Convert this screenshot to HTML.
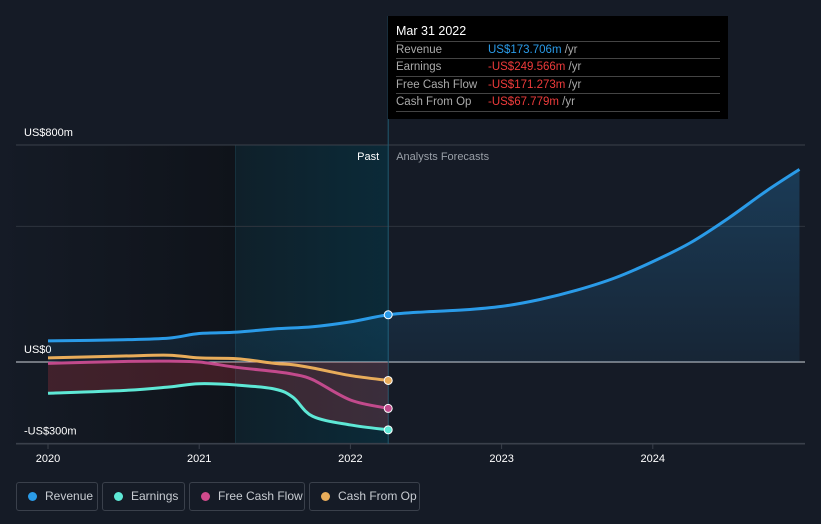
<!DOCTYPE html>
<html><head><meta charset="utf-8"><style>
body{margin:0;background:#151b26;font-family:"Liberation Sans",sans-serif;}
#wrap{position:relative;width:821px;height:524px;overflow:hidden;background:#151b26}
.leg{position:absolute;top:482px;height:29px;border:1px solid #3a404b;border-radius:3px;color:#c8ccd2;font-size:12px;line-height:27px;box-sizing:border-box;padding-left:28px;white-space:nowrap}
.leg i{position:absolute;left:11px;top:9px;width:9px;height:9px;border-radius:50%}
#tip{position:absolute;left:388px;top:16px;width:340px;height:103px;background:#000;color:#fff;font-size:11.5px;white-space:nowrap}
#tip .h{position:absolute;left:8px;top:8px;font-size:12.5px}
#tip .r{position:absolute;left:8px;width:324px;height:17px;border-top:1px solid #444;color:#aaa;line-height:17px}
#tip .r span{position:absolute;left:92px}
</style></head><body>
<div id="wrap">
<svg id="svg" width="821" height="524" style="position:absolute;left:0;top:0"></svg>
<div id="tip">
<div class="h">Mar 31 2022</div>
<div class="r" style="top:25px">Revenue<span><b style="font-weight:normal;color:#2a9be8">US$173.706m</b> /yr</span></div>
<div class="r" style="top:42px">Earnings<span><b style="font-weight:normal;color:#ee3b3b">-US$249.566m</b> /yr</span></div>
<div class="r" style="top:60px">Free Cash Flow<span><b style="font-weight:normal;color:#ee3b3b">-US$171.273m</b> /yr</span></div>
<div class="r" style="top:77px;border-bottom:1px solid #444">Cash From Op<span><b style="font-weight:normal;color:#ee3b3b">-US$67.779m</b> /yr</span></div>
</div>
<div class="leg" style="left:16px;width:82px"><i style="background:#2a9be8"></i>Revenue</div>
<div class="leg" style="left:102px;width:83px"><i style="background:#5ee8d6"></i>Earnings</div>
<div class="leg" style="left:189px;width:116px"><i style="background:#d04a8c"></i>Free Cash Flow</div>
<div class="leg" style="left:309px;width:111px"><i style="background:#e8ac5a"></i>Cash From Op</div>
</div>
<script>
const revYears=[2020,2020.5,2020.8,2021,2021.25,2021.5,2021.75,2022,2022.25,2022.5,2022.75,2023,2023.25,2023.5,2023.75,2024,2024.25,2024.5,2024.75,2024.97];
const revVals=[78,82,88,105,110,122,130,148,174,185,192,205,230,265,310,370,440,530,630,710];
const pastYears=[2020,2020.5,2020.8,2021,2021.25,2021.5,2021.62,2021.75,2022,2022.25];
const earnVals=[-115,-105,-92,-80,-85,-100,-130,-200,-232,-250];
const fcfVals=[-5,2,3,0,-20,-35,-45,-65,-140,-171];
const cfoVals=[15,22,25,15,12,-5,-10,-22,-50,-68];
const yTicks=[800,0,-300];
const yTickLabels=["US$800m","US$0","-US$300m"];
const xTicks=[2020,2021,2022,2023,2024];
const X=y=>48+(y-2020)*151.2, Y=v=>362-v*0.2713;
const svg=document.getElementById('svg'),NS='http://www.w3.org/2000/svg';
function el(t,a,p){const e=document.createElementNS(NS,t);for(const k in a)e.setAttribute(k,a[k]);(p||svg).appendChild(e);return e;}
function path(xs,vs){const p=xs.map((x,i)=>[X(x),Y(vs[i])]);let d='M'+p[0];for(let i=0;i<p.length-1;i++){const a=p[i-1]||p[i],b=p[i],c=p[i+1],e=p[i+2]||c;d+=`C${b[0]+(c[0]-a[0])/6},${b[1]+(c[1]-a[1])/6} ${c[0]-(e[0]-b[0])/6},${c[1]-(e[1]-b[1])/6} ${c[0]},${c[1]}`;}return d;}
const xNow=X(2022.25);
const defs=el('defs',{});
const gp=el('linearGradient',{id:'gp',x1:0,y1:0,x2:1,y2:0},defs);el('stop',{offset:0,'stop-color':'#151b26'},gp);el('stop',{offset:1,'stop-color':'#0f131a'},gp);
const gh=el('linearGradient',{id:'gh',x1:0,y1:0,x2:1,y2:0},defs);el('stop',{offset:0,'stop-color':'#0f202a'},gh);el('stop',{offset:1,'stop-color':'#0b2a38'},gh);
let r=el('rect',{x:0,y:145,width:X(2021.24),height:299,fill:'url(#gp)'});
let h=el('rect',{x:X(2021.24),y:145,width:xNow-X(2021.24),height:299,fill:'url(#gh)'});
el('line',{x1:X(2021.24),x2:X(2021.24),y1:145,y2:444,stroke:'#17303c'});
let g5=el('line',{x1:16,x2:805,y1:Y(500),y2:Y(500),stroke:'#2e343e'});
yTicks.forEach((v,i)=>{let g=el('line',{x1:16,x2:805,y1:Y(v),y2:Y(v),stroke:v==0?'#d0d4da':'#3a404b','stroke-width':1});
let t=el('text',{x:24,y:Y(v)-9,fill:'#fff','font-size':11});t.textContent=yTickLabels[i];});
let ax=el('line',{x1:16,x2:805,y1:444,y2:444,stroke:'#3a404b'});
el('line',{x1:xNow,x2:xNow,y1:16,y2:444,stroke:'#1f5a70'});
const g1=el('linearGradient',{id:'gr',x1:0,y1:0,x2:0,y2:1},defs);el('stop',{offset:0,'stop-color':'#2a9be8','stop-opacity':.25},g1);el('stop',{offset:1,'stop-color':'#2a9be8','stop-opacity':.08},g1);
let ra=el('path',{d:path(revYears,revVals)+`L${X(2024.97)},${Y(0)}L${X(2020)},${Y(0)}Z`,fill:'url(#gr)'});
let ea=el('path',{d:path(pastYears,earnVals)+`L${xNow},${Y(0)}L${X(2020)},${Y(0)}Z`,fill:'rgba(200,60,70,0.25)'});
[[pastYears,cfoVals,'#e8ac5a','cash-from-op-line'],[pastYears,fcfVals,'#c24a8c','free-cash-flow-line'],[pastYears,earnVals,'#5ee8d6','earnings-line'],[revYears,revVals,'#2a9be8','revenue-line']].forEach(s=>{
let l=el('path',{d:path(s[0],s[1]),fill:'none',stroke:s[2],'stroke-width':3});
const i=s[0].indexOf(2022.25);let c=el('circle',{cx:X(2022.25),cy:Y(s[1][i]),r:4,fill:s[2],stroke:'#fff','stroke-width':1});});
let p1=el('text',{x:xNow-9,y:160,fill:'#fff','font-size':11,'text-anchor':'end'});p1.textContent='Past';
let p2=el('text',{x:xNow+8,y:160,fill:'#9aa0a8','font-size':11});p2.textContent='Analysts Forecasts';
xTicks.forEach(y=>{el('line',{x1:X(y),x2:X(y),y1:444,y2:449,stroke:'#3a404b'});let t=el('text',{x:X(y),y:462,fill:'#fff','font-size':11,'text-anchor':'middle'});t.textContent=y;});
</script>
</body></html>
